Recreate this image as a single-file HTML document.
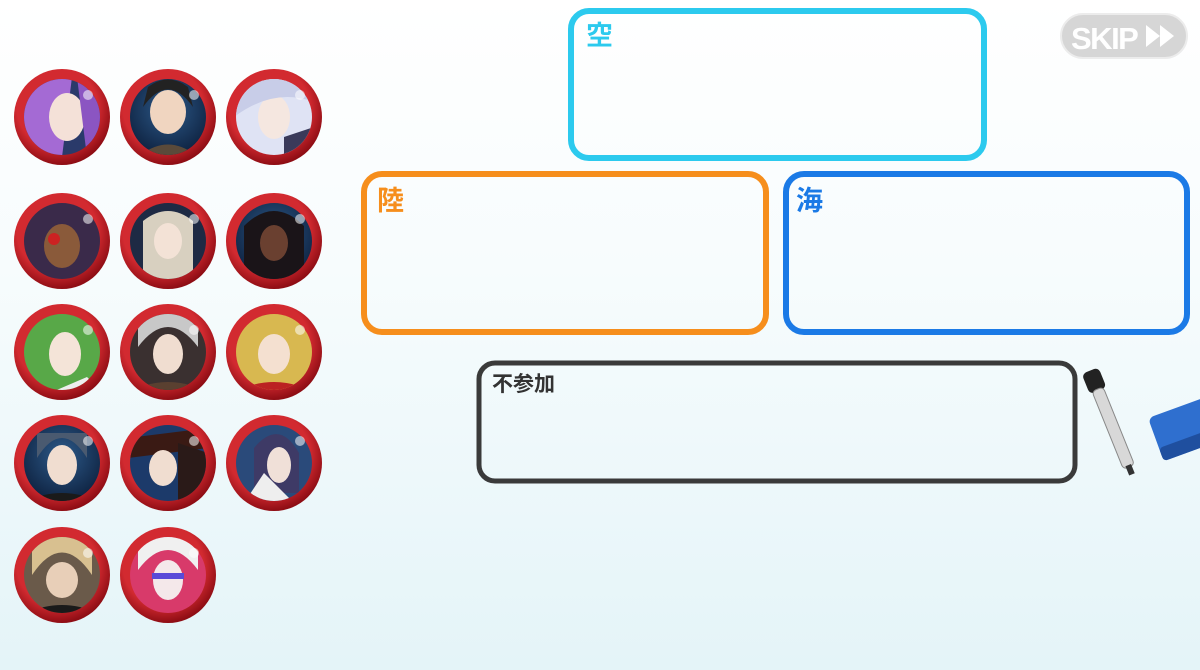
<!DOCTYPE html>
<html><head><meta charset="utf-8"><style>
html,body{margin:0;padding:0}
body{width:1200px;height:670px;overflow:hidden;background:linear-gradient(#ffffff 0%,#f7fcfd 40%,#e4f4f8 100%);font-family:"Liberation Sans","Noto Sans CJK JP",sans-serif}
</style></head><body>
<svg width="1200" height="670" viewBox="0 0 1200 670" xmlns="http://www.w3.org/2000/svg" style="position:absolute;left:0;top:0">
<defs>
<radialGradient id="rim" cx="0.45" cy="0.4" r="0.6"><stop offset="0.7" stop-color="#d22a30"/><stop offset="1" stop-color="#8e0d14"/></radialGradient>
<radialGradient id="bg" cx="0.5" cy="0.4" r="0.6"><stop offset="0" stop-color="#2d5a8a"/><stop offset="1" stop-color="#0e2240"/></radialGradient>
<clipPath id="c"><circle r="38"/></clipPath>
</defs>
<g fill="none" stroke-linecap="round" stroke-linejoin="round">
<rect x="571" y="11" width="413" height="147" rx="18" stroke="#2ccaee" stroke-width="6"/>
<rect x="364" y="174" width="402" height="158" rx="18" stroke="#f68e1c" stroke-width="6"/>
<rect x="786" y="174" width="401" height="158" rx="18" stroke="#1b7ae6" stroke-width="6"/>
<rect x="479" y="363" width="596" height="118" rx="16" stroke="#3a3a3a" stroke-width="5"/>
</g>
<text x="586" y="45" font-size="27" font-weight="bold" fill="#2ccaee" font-family="Noto Sans CJK JP, sans-serif">空</text>
<text x="377" y="210" font-size="27" font-weight="bold" fill="#f68e1c" font-family="Noto Sans CJK JP, sans-serif">陸</text>
<text x="796" y="210" font-size="27" font-weight="bold" fill="#1b7ae6" font-family="Noto Sans CJK JP, sans-serif">海</text>
<text x="492" y="391" font-size="21" font-weight="bold" fill="#333" font-family="Noto Sans CJK JP, sans-serif">不参加</text>
<!-- SKIP -->
<rect x="1061" y="14" width="126" height="44" rx="22" fill="#d6d6d6" stroke="#ececec" stroke-width="2"/>
<text x="1071" y="49" font-size="31" font-weight="bold" fill="#fff" font-family="Liberation Sans, sans-serif" letter-spacing="-1.5">SKIP</text>
<path d="M1146 25 L1160 36 L1146 47 Z M1160 25 L1174 36 L1160 47 Z" fill="#fff"/>
<!-- marker -->
<g transform="translate(1093,378) rotate(-22)">
<rect x="-9" y="-8" width="18" height="22" rx="5" fill="#222"/>
<rect x="-6" y="12" width="12" height="84" rx="4" fill="#d8d8d8" stroke="#888"/>
<rect x="-3" y="94" width="6" height="10" fill="#333"/>
</g>
<!-- eraser -->
<g transform="translate(1148,418) rotate(-20)">
<rect x="0" y="0" width="70" height="46" rx="6" fill="#2f6fcf"/>
<rect x="0" y="32" width="70" height="14" rx="4" fill="#1f4f9f"/>
</g>
<!-- badges -->
<g id="badges">
<g transform="translate(62,117)"><circle r="48" fill="url(#rim)"/><g clip-path="url(#c)"><rect x="-40" y="-40" width="80" height="80" fill="#2a3a6a"/><path d="M-40 -40 H10 L0 40 H-40Z" fill="#a46ad4"/><ellipse cx="5" cy="0" rx="18" ry="24" fill="#f4e1d8"/><path d="M15 -40 H40 V40 H25Z" fill="#8b55c2"/></g></g>
<g transform="translate(168,117)"><circle r="48" fill="url(#rim)"/><g clip-path="url(#c)"><rect x="-40" y="-40" width="80" height="80" fill="url(#bg)"/><ellipse cx="0" cy="-5" rx="18" ry="22" fill="#f0d5c0"/><path d="M-25 -10 Q0 -45 25 -10 L20 -30 Q0 -45 -20 -30Z" fill="#222"/><path d="M-30 40 Q0 15 30 40Z" fill="#5a4a3a"/></g></g>
<g transform="translate(274,117)"><circle r="48" fill="url(#rim)"/><g clip-path="url(#c)"><rect x="-40" y="-40" width="80" height="80" fill="#dfe3f4"/><ellipse cx="0" cy="0" rx="16" ry="22" fill="#f5e7e0"/><path d="M-40 -40 H40 V-15 Q0 -30 -40 0Z" fill="#c8cde8"/><path d="M10 20 L40 10 V40 H10Z" fill="#3a3a5a"/></g></g>

<g transform="translate(62,241)"><circle r="48" fill="url(#rim)"/><g clip-path="url(#c)"><rect x="-40" y="-40" width="80" height="80" fill="#3a2a4a"/><ellipse cx="0" cy="5" rx="18" ry="22" fill="#8a5a3a"/><circle cx="-8" cy="-2" r="6" fill="#c22"/></g></g>
<g transform="translate(168,241)"><circle r="48" fill="url(#rim)"/><g clip-path="url(#c)"><rect x="-40" y="-40" width="80" height="80" fill="#1e2a44"/><path d="M-25 40 V-20 Q0 -40 25 -20 V40Z" fill="#d8d0c0"/><ellipse cx="0" cy="0" rx="14" ry="18" fill="#f3e2d6"/></g></g>
<g transform="translate(274,241)"><circle r="48" fill="url(#rim)"/><g clip-path="url(#c)"><rect x="-40" y="-40" width="80" height="80" fill="url(#bg)"/><path d="M-30 40 V-15 Q0 -45 30 -15 V40Z" fill="#1a1418"/><ellipse cx="0" cy="2" rx="14" ry="18" fill="#6a4030"/></g></g>

<g transform="translate(62,352)"><circle r="48" fill="url(#rim)"/><g clip-path="url(#c)"><rect x="-40" y="-40" width="80" height="80" fill="#58a848"/><ellipse cx="3" cy="2" rx="16" ry="22" fill="#f4e4d8"/><path d="M-10 40 L25 25 L40 40Z" fill="#eee"/></g></g>
<g transform="translate(168,352)"><circle r="48" fill="url(#rim)"/><g clip-path="url(#c)"><rect x="-40" y="-40" width="80" height="80" fill="#3a3030"/><path d="M-30 -5 Q0 -45 30 -5 V-40 H-30Z" fill="#c8c8c8"/><ellipse cx="0" cy="2" rx="15" ry="20" fill="#f0ddd0"/><path d="M-40 40 Q0 20 40 40Z" fill="#5a4030"/></g></g>
<g transform="translate(274,352)"><circle r="48" fill="url(#rim)"/><g clip-path="url(#c)"><rect x="-40" y="-40" width="80" height="80" fill="#d8b850"/><ellipse cx="0" cy="2" rx="16" ry="20" fill="#f4e0d0"/><path d="M-40 40 Q0 20 40 40Z" fill="#b22"/></g></g>

<g transform="translate(62,463)"><circle r="48" fill="url(#rim)"/><g clip-path="url(#c)"><rect x="-40" y="-40" width="80" height="80" fill="url(#bg)"/><path d="M-25 -5 Q0 -45 25 -5 V-30 H-25Z" fill="#4a5a70"/><ellipse cx="0" cy="2" rx="15" ry="20" fill="#f0ddd0"/><path d="M-40 40 Q0 20 40 40Z" fill="#1a1a1a"/></g></g>
<g transform="translate(168,463)"><circle r="48" fill="url(#rim)"/><g clip-path="url(#c)"><rect x="-40" y="-40" width="80" height="80" fill="#1c3a6a"/><path d="M-40 -25 L40 -35 V-15 L-40 -5Z" fill="#3a1a14"/><ellipse cx="-5" cy="5" rx="14" ry="18" fill="#f0ddd0"/><path d="M10 -20 L40 -10 V40 H10Z" fill="#2a1a18"/></g></g>
<g transform="translate(274,463)"><circle r="48" fill="url(#rim)"/><g clip-path="url(#c)"><rect x="-40" y="-40" width="80" height="80" fill="#2a4a7a"/><path d="M-20 30 V-15 Q5 -45 25 -10 V30Z" fill="#3e3a66"/><ellipse cx="5" cy="2" rx="12" ry="18" fill="#f0e0d8"/><path d="M-30 40 L-10 10 L20 40Z" fill="#eee"/></g></g>

<g transform="translate(62,575)"><circle r="48" fill="url(#rim)"/><g clip-path="url(#c)"><rect x="-40" y="-40" width="80" height="80" fill="#6a5a4a"/><path d="M-30 0 Q0 -45 30 0 V-40 H-30Z" fill="#d8c090"/><ellipse cx="0" cy="5" rx="16" ry="18" fill="#e8cfb8"/><path d="M-40 40 Q0 20 40 40Z" fill="#1a1a1a"/></g></g>
<g transform="translate(168,575)"><circle r="48" fill="url(#rim)"/><g clip-path="url(#c)"><rect x="-40" y="-40" width="80" height="80" fill="#d83a6a"/><path d="M-30 -5 Q0 -45 30 -5 V-40 H-30Z" fill="#f0f0f0"/><ellipse cx="0" cy="5" rx="15" ry="20" fill="#f4e8ea"/><rect x="-16" y="-2" width="32" height="6" fill="#5a4ad8"/></g></g>
</g>
<g fill="#fff" opacity="0.55">
<circle cx="88" cy="95" r="5"/><circle cx="194" cy="95" r="5"/><circle cx="300" cy="95" r="5"/>
<circle cx="88" cy="219" r="5"/><circle cx="194" cy="219" r="5"/><circle cx="300" cy="219" r="5"/>
<circle cx="88" cy="330" r="5"/><circle cx="194" cy="330" r="5"/><circle cx="300" cy="330" r="5"/>
<circle cx="88" cy="441" r="5"/><circle cx="194" cy="441" r="5"/><circle cx="300" cy="441" r="5"/>
<circle cx="88" cy="553" r="5"/><circle cx="194" cy="553" r="5"/>
</g>
</svg>
</body></html>
